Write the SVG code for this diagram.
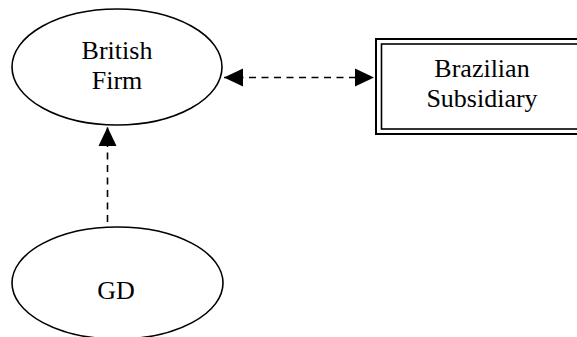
<svg xmlns="http://www.w3.org/2000/svg" width="577" height="337" viewBox="0 0 577 337">
<style>
.node{fill:#fff;stroke:#000;stroke-width:1.6}
.lbl{font-family:"Liberation Serif","Times New Roman",serif;font-size:26px;fill:#000;text-anchor:middle}
.edge{fill:none;stroke:#000;stroke-width:1.6;stroke-dasharray:7,5.5}
</style>
<defs>
<marker id="ah" viewBox="0 0 20 20" refX="19" refY="10" markerWidth="20" markerHeight="20" markerUnits="userSpaceOnUse" orient="auto-start-reverse">
<path d="M0,1 L19,10 L0,19 Z" fill="#000"/>
</marker>
</defs>
<rect width="577" height="337" fill="#fff"/>
<g id="connectors">
<line class="edge" x1="107.5" y1="222" x2="107.5" y2="127" marker-end="url(#ah)"/>
<line class="edge" x1="224" y1="77.5" x2="374" y2="77.5" marker-start="url(#ah)" marker-end="url(#ah)"/>
</g>
<g id="british-firm">
<ellipse class="node" cx="117" cy="67" rx="105" ry="58"/>
<text class="lbl" x="117" y="59">British</text>
<text class="lbl" x="117" y="89">Firm</text>
</g>
<g id="brazilian-subsidiary">
<rect x="376" y="39" width="220" height="95" fill="#fff" stroke="#000" stroke-width="2"/>
<rect x="381.5" y="44" width="210" height="85" fill="none" stroke="#000" stroke-width="1.6"/>
<text class="lbl" x="482" y="77">Brazilian</text>
<text class="lbl" x="482" y="107">Subsidiary</text>
</g>
<g id="gd">
<ellipse class="node" cx="117.5" cy="283" rx="105.5" ry="56"/>
<text class="lbl" x="116" y="299">GD</text>
</g>
</svg>
